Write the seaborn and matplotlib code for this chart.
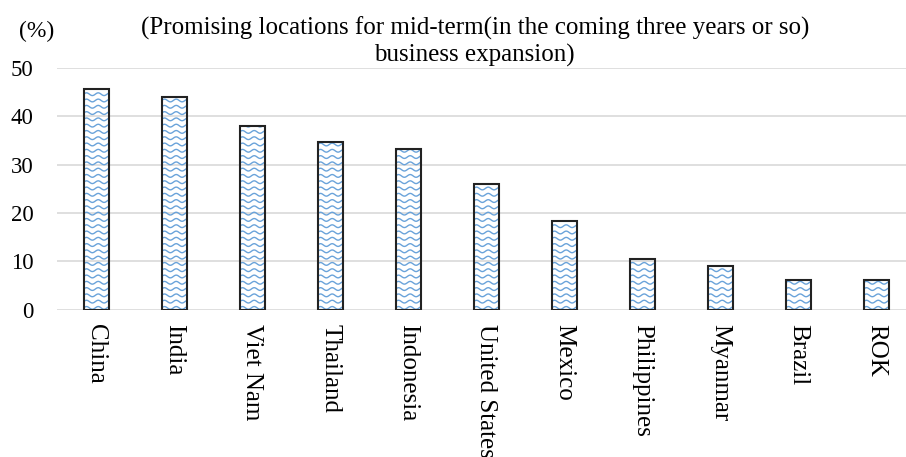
import numpy as np
import pandas as pd
import matplotlib
matplotlib.use("Agg")
import matplotlib.pyplot as plt
import seaborn as sns

countries = ["China", "India", "Viet Nam", "Thailand", "Indonesia", "United States",
             "Mexico", "Philippines", "Myanmar", "Brazil", "ROK"]
shares = [45.7, 44.0, 38.0, 34.7, 33.3, 26.0, 18.4, 10.6, 9.0, 6.2, 6.2]
yticks = [0, 10, 20, 30, 40, 50]

df = pd.DataFrame({"country": countries, "share": shares})

sns.set_theme(style="white")
plt.rcParams["font.family"] = ["Liberation Serif", "DejaVu Serif"]
plt.rcParams["text.color"] = "black"
plt.rcParams["xtick.color"] = "black"
plt.rcParams["ytick.color"] = "black"

fig = plt.figure(figsize=(9.06, 4.57), dpi=100)
ax = fig.add_axes([0.063, 0.322, 0.947, 0.529])

sns.barplot(data=df, x="country", y="share", ax=ax, color="white",
            width=0.32, edgecolor="#222222", linewidth=1.5, zorder=3)

# wavy fill pattern inside each bar
wave_color = "#6AA3DA"
for patch in ax.patches:
    x0, y0 = patch.get_x(), patch.get_y()
    w, h = patch.get_width(), patch.get_height()
    xs = np.linspace(x0, x0 + w, 80)
    step = 1.3
    base = y0 + 0.4
    while base < y0 + h + 1:
        ys = base + 0.28 * np.sin(2 * np.pi * (xs - x0) / 0.15)
        line, = ax.plot(xs, ys, color=wave_color, lw=1.0, zorder=3.5)
        line.set_clip_path(patch)
        base += step
    patch.set_zorder(4)
    patch.set_facecolor("none")

ax.set_ylim(0, 50)
ax.set_yticks(yticks)
ax.set_yticklabels([str(v) for v in yticks], fontsize=16.5)
ax.set_xlim(-0.5, len(countries) - 0.5)
ax.grid(axis="y", color="#D9D9D9", linewidth=1.2, zorder=0)
ax.set_axisbelow(True)
for s in ax.spines.values():
    s.set_visible(False)
ax.set_xlabel("")
ax.set_ylabel("")
ax.tick_params(axis="x", labelsize=18, rotation=270, length=0, pad=10, labelcolor="black")
ax.tick_params(axis="y", length=0, pad=17, labelcolor="black")
for lbl in ax.get_xticklabels():
    lbl.set_va("top")
    lbl.set_ha("center")

fig.text(0.524, 0.938, "(Promising locations for mid-term(in the coming three years or so)",
         ha="center", va="center", fontsize=18, color="black")
fig.text(0.524, 0.879, "business expansion)", ha="center", va="center", fontsize=18, color="black")
fig.text(0.04, 0.932, "(%)", ha="center", va="center", fontsize=17, color="black")

fig.savefig("out.png", dpi=100)
